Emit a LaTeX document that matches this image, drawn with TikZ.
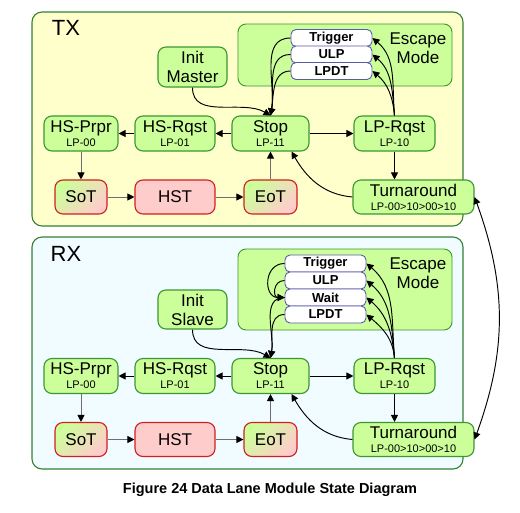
\documentclass[tikz,border=0pt]{standalone}
\usepackage{fontspec}
\setmainfont{Liberation Sans}
\usetikzlibrary{arrows.meta,positioning}

\definecolor{lanegreen}{RGB}{204,255,153}
\definecolor{laneedge}{RGB}{60,150,50}
\definecolor{boxedge}{RGB}{50,130,50}
\definecolor{txback}{RGB}{255,255,204}
\definecolor{rxback}{RGB}{240,252,255}
\definecolor{hspink}{RGB}{255,204,204}
\definecolor{hsred}{RGB}{210,30,30}
\definecolor{escedge}{RGB}{90,90,170}
\definecolor{hsgrey}{RGB}{110,110,110}

\newcommand{\lpstate}[1]{\\[-5pt]{\fontsize{11}{12}\selectfont #1}}

\begin{document}
\begin{tikzpicture}[
  x=1pt, y=1pt,
  >={Triangle[length=7pt,width=7pt]},
  line width=0.95pt,
  font=\fontsize{17}{19}\selectfont,
  lp/.style={draw=laneedge, fill=lanegreen, rounded corners=8pt, line width=1.1pt, align=center, inner sep=0pt, minimum height=35pt},
  hs/.style={draw=hsred, fill=hspink, rounded corners=8pt, line width=1.1pt, inner sep=0pt, minimum height=34pt},
  hsmix/.style={hs, top color=lanegreen, bottom color=hspink, shading angle=45},
  esc/.style={draw=escedge, fill=white, rounded corners=5pt, line width=0.9pt, minimum width=81pt, minimum height=17pt, inner sep=0pt, font=\fontsize{13}{14}\selectfont\bfseries},
  area/.style={draw=boxedge, line width=1.1pt, rounded corners=10pt},
  escarea/.style={draw=laneedge, fill=lanegreen, line width=0.9pt, rounded corners=8pt},
  hsarrow/.style={draw=hsgrey, -{Triangle[length=7pt,width=7pt,black]}}
]
\useasboundingbox (0,0) rectangle (520,-512);

% TX side
\draw[area, fill=txback] (32,-12) rectangle (463,-226);
\draw[escarea] (238,-24) rectangle (452,-86);
\node (txlabel) at (66,-28) {\fontsize{22}{24}\selectfont TX};
\node[align=center] (tesc) at (418,-48) {Escape\\Mode};

\node[esc] (ttrig) at (331.5,-38) {Trigger};
\node[esc] (tulp) at (331.5,-54.5) {ULP};
\node[esc] (tlpdt) at (331.5,-71) {LPDT};

\node[lp, minimum width=69pt, minimum height=40pt] (tinit) at (192.5,-67) {Init\\Master};

\node[lp, minimum width=74pt] (thsp) at (81,-133.5) {HS-Prpr\lpstate{LP-00}};
\node[lp, minimum width=80pt] (thsr) at (175,-133.5) {HS-Rqst\lpstate{LP-01}};
\node[lp, minimum width=77pt] (tstop) at (270.5,-133.5) {Stop\lpstate{LP-11}};
\node[lp, minimum width=81pt] (tlpr) at (394.5,-133.5) {LP-Rqst\lpstate{LP-10}};

\node[hsmix, minimum width=52pt] (tsot) at (81,-197) {SoT};
\node[hs, minimum width=80pt] (thst) at (175,-197) {HST};
\node[hsmix, minimum width=53pt] (teot) at (270.5,-197) {EoT};
\node[lp, minimum width=121pt, minimum height=34pt] (tturn) at (413.5,-197) {Turnaround\lpstate{LP-00>10>00>10}};

% TX arcs
\draw[->] (tstop) -- (thsr);
\draw[->] (thsr) -- (thsp);
\draw[hsarrow] (thsp) -- (tsot);
\draw[hsarrow] (tsot) -- (thst);
\draw[hsarrow] (thst) -- (teot);
\draw[hsarrow] (teot) -- (tstop);
\draw[->] (tstop) -- (tlpr);
\draw[->] (tlpr.south) -- (tlpr.south |- tturn.north);
\draw[->] (tturn.west) to[out=175,in=-60] ([xshift=21pt]tstop.south);
\draw[->] (tinit.south) to[out=-90,in=150] (tstop.north);

% TX escape entries and exits
\draw[->] (ttrig.west) to[out=180,in=80] (tstop.north);
\draw[->] (tulp.west) to[out=180,in=80] (tstop.north);
\draw[->] (tlpdt.west) to[out=180,in=80] (tstop.north);
\draw[->] (tlpr.north) to[out=95,in=-40] (ttrig.east);
\draw[->] (tlpr.north) to[out=95,in=-40] (tulp.east);
\draw[->] (tlpr.north) to[out=95,in=-40] (tlpdt.east);

% RX side
\draw[area, fill=rxback] (32,-237) rectangle (463,-469);
\draw[escarea] (238,-249) rectangle (452,-330);
\node (rxlabel) at (66,-254) {\fontsize{22}{24}\selectfont RX};
\node[align=center] (resc) at (418,-273) {Escape\\Mode};

\node[esc] (rtrig) at (325.5,-263.5) {Trigger};
\node[esc] (rulp) at (325.5,-280.5) {ULP};
\node[esc] (rwait) at (325.5,-297.5) {Wait};
\node[esc] (rlpdt) at (325.5,-314.5) {LPDT};

\node[lp, minimum width=69pt, minimum height=39pt] (rinit) at (192.5,-309.5) {Init\\Slave};

\node[lp, minimum width=74pt] (rhsp) at (81,-376) {HS-Prpr\lpstate{LP-00}};
\node[lp, minimum width=80pt] (rhsr) at (175,-376) {HS-Rqst\lpstate{LP-01}};
\node[lp, minimum width=77pt] (rstop) at (270.5,-376) {Stop\lpstate{LP-11}};
\node[lp, minimum width=81pt] (rlpr) at (394.5,-376) {LP-Rqst\lpstate{LP-10}};

\node[hsmix, minimum width=52pt] (rsot) at (81,-439.5) {SoT};
\node[hs, minimum width=80pt] (rhst) at (175,-439.5) {HST};
\node[hsmix, minimum width=53pt] (reot) at (270.5,-439.5) {EoT};
\node[lp, minimum width=121pt, minimum height=34pt] (rturn) at (413.5,-439.5) {Turnaround\lpstate{LP-00>10>00>10}};

% RX arcs
\draw[->] (rstop) -- (rhsr);
\draw[->] (rhsr) -- (rhsp);
\draw[hsarrow] (rhsp) -- (rsot);
\draw[hsarrow] (rsot) -- (rhst);
\draw[hsarrow] (rhst) -- (reot);
\draw[hsarrow] (reot) -- (rstop);
\draw[->] (rstop) -- (rlpr);
\draw[->] (rlpr.south) -- (rlpr.south |- rturn.north);
\draw[->] (rturn.west) to[out=175,in=-60] ([xshift=21pt]rstop.south);
\draw[->] (rinit.south) to[out=-90,in=150] (rstop.north);

% RX escape entries and exits
\draw[->] (rtrig.west) to[out=180,in=180,looseness=1.6] (rwait.west);
\draw[->] (rulp.west) to[out=180,in=180,looseness=1.8] (rwait.west);
\draw[->] (rwait.west) to[out=180,in=80] (rstop.north);
\draw[->] (rlpdt.west) to[out=180,in=80] (rstop.north);
\draw[->] (rlpr.north) to[out=95,in=-40] (rtrig.east);
\draw[->] (rlpr.north) to[out=95,in=-40] (rulp.east);
\draw[->] (rlpr.north) to[out=95,in=-40] (rwait.east);
\draw[->] (rlpr.north) to[out=95,in=-40] (rlpdt.east);

% Turnaround link between the two sides
\draw[<->] (tturn.east) to[out=-70,in=70] (rturn.east);

% Caption
\node (caption) at (270,-490) {\fontsize{14.5}{16}\selectfont\bfseries Figure 24 Data Lane Module State Diagram};

\end{tikzpicture}
\end{document}
